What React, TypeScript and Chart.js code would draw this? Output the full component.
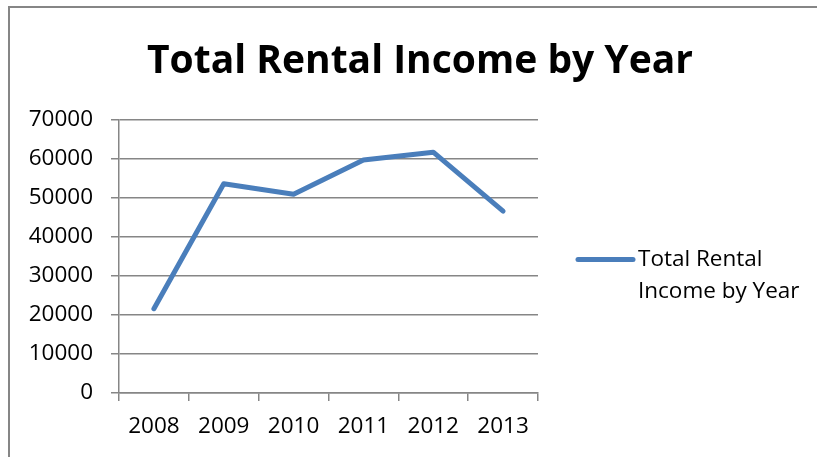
import React, { useEffect, useRef } from "react";
import { Chart, registerables } from "chart.js";

Chart.register(...registerables);

const TITLE = "Total Rental Income by Year";
const YEARS = ["2008", "2009", "2010", "2011", "2012", "2013"];
const INCOME = [21600, 53600, 50900, 59700, 61700, 46600];
const SERIES_LABEL = "Total Rental Income by Year";
const LEGEND_LINES = ["Total Rental", "Income by Year"];
const Y_MIN = 0;
const Y_MAX = 70000;
const Y_STEP = 10000;

const LINE_COLOR = "#4A7EBB";
const AXIS_COLOR = "#868686";
const FONT = "'Open Sans', Lato, sans-serif";
const TEXT_SIZE = 22.5;

const legendPlugin = {
  id: "sideLegend",
  afterDraw(chart: any) {
    const { ctx, chartArea } = chart;
    const ds = chart.data.datasets[0];
    const midY = (chartArea.top + chartArea.bottom) / 2 + 3;
    const x0 = chartArea.right + 40;
    ctx.save();
    ctx.strokeStyle = ds.borderColor;
    ctx.lineWidth = 5;
    ctx.lineCap = "round";
    ctx.beginPath();
    ctx.moveTo(x0, midY);
    ctx.lineTo(x0 + 55, midY);
    ctx.stroke();
    ctx.fillStyle = "#000";
    ctx.font = `${TEXT_SIZE}px ${FONT}`;
    ctx.textBaseline = "middle";
    ctx.textAlign = "left";
    LEGEND_LINES.forEach((line, i) => {
      ctx.fillText(line, x0 + 60, midY + i * 32);
    });
    ctx.restore();
  },
};

export default function App() {
  const ref = useRef<HTMLCanvasElement>(null);
  useEffect(() => {
    if (!ref.current) return;
    const chart = new Chart(ref.current, {
      type: "line",
      data: {
        labels: YEARS,
        datasets: [
          {
            label: SERIES_LABEL,
            data: INCOME,
            borderColor: LINE_COLOR,
            backgroundColor: LINE_COLOR,
            borderWidth: 5,
            borderCapStyle: "round",
            borderJoinStyle: "round",
            pointRadius: 0,
            tension: 0,
          },
        ],
      },
      options: {
        animation: false,
        responsive: false,
        maintainAspectRatio: false,
        layout: { padding: { left: 23, right: 0, top: 0, bottom: 0 } },
        plugins: {
          legend: { display: false },
          tooltip: { enabled: false },
          title: {
            display: true,
            text: TITLE,
            color: "#000",
            font: { family: FONT, size: 39, weight: "bold", lineHeight: 1.2 },
            padding: { top: 38, bottom: 35 },
          },
        },
        scales: {
          x: {
            offset: true,
            grid: {
              offset: true,
              drawOnChartArea: false,
              drawTicks: true,
              tickLength: 8,
              color: AXIS_COLOR,
              lineWidth: 1.5,
            },
            border: { display: true, color: AXIS_COLOR, width: 1.5 },
            ticks: {
              color: "#000",
              font: { family: FONT, size: TEXT_SIZE },
              padding: 12,
              maxRotation: 0,
              autoSkip: false,
            },
            afterFit(scale: any) {
              scale.height = 64;
            },
          },
          y: {
            min: Y_MIN,
            max: Y_MAX,
            grid: {
              drawOnChartArea: true,
              drawTicks: true,
              tickLength: 8,
              color: AXIS_COLOR,
              lineWidth: 1.5,
            },
            border: { display: true, color: AXIS_COLOR, width: 1.5 },
            ticks: {
              stepSize: Y_STEP,
              color: "#000",
              font: { family: FONT, size: TEXT_SIZE },
              padding: 18,
              callback: (v: any) => String(v),
            },
            afterFit(scale: any) {
              scale.width = 96;
            },
          },
          spacer: {
            type: "linear",
            position: "right",
            display: true,
            grid: { display: false, drawTicks: false },
            border: { display: false },
            ticks: { display: false },
            afterFit(scale: any) {
              scale.width = 279;
            },
          },
        },
      },
      plugins: [legendPlugin],
    });
    return () => chart.destroy();
  }, []);

  return (
    <div style={{ position: "fixed", left: 0, top: 0, width: 817, height: 457, background: "#fff" }}>
      <canvas ref={ref} width={817} height={457} style={{ position: "absolute", left: 0, top: 0 }} />
      <div
        style={{
          position: "absolute",
          left: 8,
          top: 6,
          width: 809,
          height: 451,
          borderTop: `2px solid ${AXIS_COLOR}`,
          borderLeft: `2px solid ${AXIS_COLOR}`,
          boxSizing: "border-box",
          pointerEvents: "none",
        }}
      />
    </div>
  );
}
